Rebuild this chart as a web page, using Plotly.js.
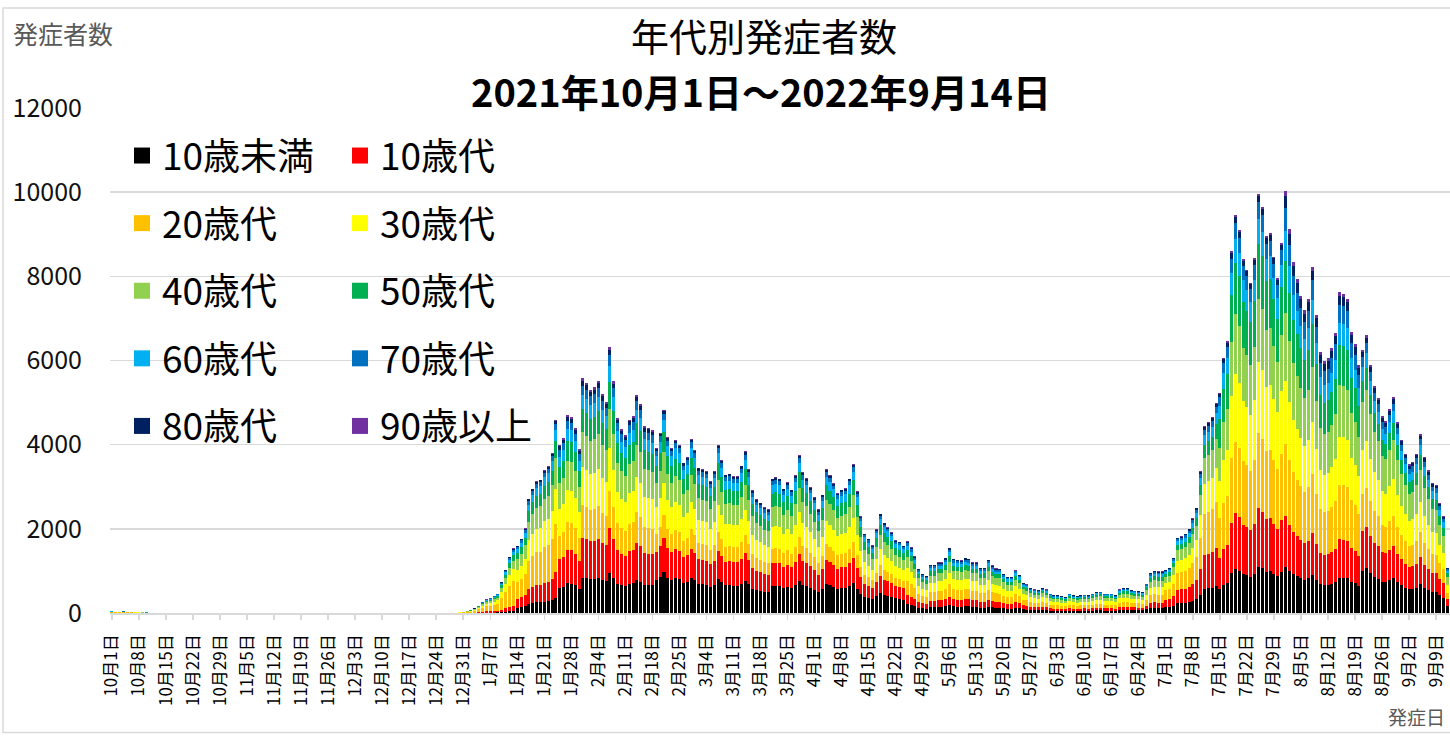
<!DOCTYPE html>
<html>
<head>
<meta charset="utf-8">
<script src="https://cdn.plot.ly/plotly-3.0.1.min.js"></script>
<style>html,body{margin:0;padding:0;background:#fff;}#chart{width:1450px;height:736px;}</style>
</head>
<body>
<div id="chart"></div>
<script>
// ---- series names & colours ----
const seriesNames = ['10歳未満','10歳代','20歳代','30歳代','40歳代','50歳代','60歳代','70歳代','80歳代','90歳以上'];
const seriesColors = ['#000000','#FF0000','#FFC000','#FFFF00','#92D050','#00B050','#00B0F0','#0070C0','#002060','#7030A0'];

// ---- x tick labels (every 7 days) ----
const tickLabels = ['10月1日','10月8日','10月15日','10月22日','10月29日','11月5日','11月12日','11月19日','11月26日','12月3日','12月10日','12月17日','12月24日','12月31日','1月7日','1月14日','1月21日','1月28日','2月4日','2月11日','2月18日','2月25日','3月4日','3月11日','3月18日','3月25日','4月1日','4月8日','4月15日','4月22日','4月29日','5月6日','5月13日','5月20日','5月27日','6月3日','6月10日','6月17日','6月24日','7月1日','7月8日','7月15日','7月22日','7月29日','8月5日','8月12日','8月19日','8月26日','9月2日','9月9日'];

// ---- daily values, 2021-10-01 .. 2022-09-14 ----
const age0 = [
5,4,4,4,4,3,3,3,2,2,
1,1,1,1,1,1,1,0,1,0,
0,0,1,0,0,0,0,0,1,0,
0,0,0,0,0,1,0,0,0,0,
0,0,0,0,0,0,0,0,0,0,
0,0,0,0,0,0,0,0,0,0,
0,0,0,0,0,0,0,0,0,0,
0,0,0,0,0,0,0,0,0,0,
0,0,0,0,0,0,1,0,0,1,
1,
1,2,2,3,5,8,10,11,12,14,22,31,40,46,
127,141,161,217,236,250,254,272,279,304,367,
599,624,707,699,660,582,837,822,797,803,830,779,755,948,825,698,656,636,689,704,780,746,668,660,654,
784,856,966,836,784,824,800,714,742,828,
774,690,682,674,626,674,800,728,658,662,
650,650,700,768,682,582,540,524,502,492,
638,646,638,590,622,586,654,752,668,642,
598,550,492,562,682,654,618,570,586,594,
638,708,578,460,378,352,322,398,472,428,
408,384,346,338,318,
205,188,162,126,112,
107,137,137,145,145,157,186,155,152,150,
157,155,145,145,128,130,152,136,127,126,
112,103,103,122,109,86,82,72,67,65,
72,67,55,50,50,48,46,55,50,48,
50,52,50,55,60,61,55,55,55,50,
67,71,71,65,64,62,60,84,114,120,
119,119,
133,139,170,233,237,244,260,293,325,438,577,589,606,649,
575,667,710,945,1041,1001,925,898,864,927,1096,1060,985,993,932,875,968,
1103,1003,919,872,829,792,822,905,780,682,658,666,693,732,838,835,822,736,703,649,
1002,1058,944,862,818,747,730,776,821,726,659,606,565,574,606,682,594,542,494,488,419,368,171,112,56
];
const age10 = [
6,5,5,6,4,4,4,3,3,2,
2,2,1,1,1,1,1,1,0,1,
1,0,0,1,0,0,0,0,0,0,
0,0,0,0,0,0,0,0,0,0,
0,0,0,0,0,0,0,0,0,0,
0,0,0,0,0,0,0,0,0,0,
0,0,0,0,0,0,0,0,0,0,
0,0,0,0,0,0,0,0,0,0,
0,0,0,0,0,0,0,1,1,1,
2,
3,4,6,9,14,21,26,28,32,36,59,82,106,123,
207,229,261,352,384,407,412,442,454,494,597,
678,707,801,792,748,660,949,932,903,910,940,882,855,1074,935,791,743,721,780,797,884,845,757,748,741,
666,728,821,711,666,700,680,607,631,704,
658,587,580,573,532,573,680,619,559,563,
553,553,595,653,580,495,459,445,427,418,
542,549,542,502,529,498,556,639,568,546,
508,468,418,478,580,556,525,485,498,505,
542,602,491,391,321,299,274,338,401,364,
347,326,294,287,270,
222,204,176,137,121,
116,148,148,157,157,170,202,168,165,163,
170,168,157,157,139,140,165,147,138,137,
121,112,112,133,118,94,88,78,73,70,
78,73,60,55,55,52,49,60,55,52,
55,56,55,60,65,66,60,60,60,55,
73,77,77,70,69,68,65,91,124,130,
129,129,
184,193,236,322,328,338,360,405,450,607,799,815,839,898,
732,848,903,1203,1324,1274,1177,1142,1099,1180,1394,1350,1253,1264,1186,1113,1232,
1204,1094,1002,952,905,864,896,988,851,744,718,726,756,798,914,911,896,803,767,708,
939,992,885,809,767,701,684,728,770,681,618,569,530,539,569,639,557,509,464,458,393,345,161,105,53
];
const age20 = [
8,8,7,8,7,6,5,5,4,3,
3,2,2,2,2,1,1,1,1,1,
1,1,0,1,1,1,0,1,0,1,
1,0,1,0,0,0,0,0,0,0,
0,0,0,1,0,0,0,0,1,0,
0,0,0,0,0,0,0,0,0,0,
0,0,0,0,0,0,0,0,0,0,
0,0,0,0,0,0,0,0,0,0,
1,1,0,1,1,1,2,2,3,4,
7,
13,19,27,42,68,99,122,133,152,171,281,391,505,585,
398,440,503,678,738,783,793,850,873,950,1148,
559,582,659,652,616,543,781,767,743,749,774,727,704,885,770,651,612,594,643,657,728,696,623,616,610,
431,471,531,460,431,453,440,393,408,455,
426,380,375,371,344,371,440,400,362,364,
358,358,385,422,375,320,297,288,276,271,
351,355,351,325,342,322,360,414,367,353,
329,303,271,309,375,360,340,314,322,327,
351,389,318,253,208,194,177,219,260,235,
224,211,190,186,175,
325,298,257,200,177,
169,217,217,230,230,249,295,245,241,238,
249,245,230,230,203,205,241,215,201,200,
177,163,163,194,173,137,129,114,106,103,
114,106,87,80,80,76,72,87,80,76,
80,82,80,87,95,97,87,87,87,80,
106,112,112,103,101,99,95,133,181,190,
188,188,
224,235,288,394,400,414,440,495,550,741,977,997,1025,1098,
941,1091,1161,1546,1703,1638,1514,1469,1413,1517,1793,1735,1611,1625,1525,1431,1584,
1705,1550,1420,1348,1282,1224,1270,1399,1205,1054,1017,1029,1071,1131,1295,1290,1270,1137,1086,1003,
876,925,826,755,715,654,638,679,718,636,577,531,494,503,531,596,519,475,433,427,367,322,150,98,49
];
const age30 = [
6,6,5,6,5,5,4,4,3,2,
2,2,2,1,1,1,1,1,1,1,
1,1,1,0,0,1,1,0,1,0,
0,0,0,0,0,0,0,0,0,0,
0,0,0,0,0,0,0,0,0,0,
0,0,0,0,0,0,0,0,0,0,
0,0,0,0,0,0,0,0,0,0,
0,0,0,0,0,0,0,0,0,0,
0,0,0,0,1,1,1,1,2,2,
4,
7,10,13,21,34,49,61,67,76,86,141,196,253,293,
286,317,362,488,531,563,571,612,628,684,826,
638,666,754,746,704,621,893,877,850,856,885,830,805,1011,880,744,699,678,734,750,832,795,712,704,698,
627,685,773,669,627,659,640,571,594,662,
619,552,546,539,501,539,640,582,526,530,
520,520,560,614,546,466,432,419,402,394,
510,517,510,472,498,469,523,602,534,514,
478,440,394,450,546,523,494,456,469,475,
510,566,462,368,302,282,258,318,378,342,
326,307,277,270,254,
308,283,243,189,167,
160,205,205,218,218,236,279,232,229,225,
236,232,218,218,193,194,229,203,191,189,
167,155,155,184,164,130,122,108,101,97,
108,101,83,76,76,72,68,83,76,72,
76,77,76,83,90,92,83,83,83,76,
101,106,106,97,95,94,90,126,171,180,
178,178,
163,171,210,286,291,301,320,360,400,539,710,725,746,798,
889,1030,1097,1460,1608,1547,1430,1387,1335,1433,1693,1639,1522,1535,1440,1352,1496,
1505,1368,1253,1190,1131,1080,1121,1235,1064,930,897,908,945,998,1143,1139,1121,1004,959,885,
1064,1124,1003,916,869,794,775,825,872,772,700,644,600,610,644,724,631,576,525,519,445,391,182,119,60
];
const age40 = [
6,5,5,5,4,4,4,3,3,2,
2,1,1,1,1,1,1,1,1,1,
1,0,1,1,0,0,0,0,0,0,
0,0,0,1,0,0,0,0,0,0,
0,0,0,0,0,0,0,0,0,0,
0,0,0,0,0,0,0,0,0,0,
0,0,0,0,0,0,0,0,0,0,
0,0,0,0,0,0,0,0,0,0,
0,0,0,0,0,1,1,1,1,2,
3,
5,7,9,14,23,34,42,46,52,59,96,134,173,200,
254,282,322,434,472,501,507,544,558,608,734,
605,618,700,705,652,590,830,815,790,810,822,785,748,940,832,690,662,630,695,698,772,752,660,668,648,
588,642,725,627,588,618,600,536,557,621,
581,518,512,506,470,506,600,546,494,497,
488,488,525,576,512,437,405,393,377,369,
479,485,479,443,467,440,491,564,501,482,
449,413,369,422,512,491,464,428,440,446,
479,531,434,345,284,264,242,299,354,321,
306,288,260,254,239,
274,251,216,168,149,
142,182,182,194,194,210,248,206,203,200,
210,206,194,194,171,173,203,181,170,168,
149,138,138,163,146,115,109,96,90,86,
96,90,74,67,67,64,61,74,67,64,
67,69,67,74,80,82,74,74,74,67,
90,94,94,86,85,83,80,112,152,160,
158,158,
143,150,183,251,255,263,280,315,350,472,622,634,652,699,
785,909,968,1289,1419,1365,1262,1224,1178,1265,1494,1446,1343,1355,1271,1193,1320,
1605,1459,1336,1269,1206,1152,1195,1317,1134,992,957,968,1008,1064,1219,1214,1195,1070,1022,944,
1127,1190,1062,970,920,841,821,873,923,817,742,682,635,646,682,767,668,610,556,549,472,414,193,126,63
];
const age50 = [
4,4,3,4,3,3,3,2,2,2,
1,1,1,1,1,1,0,1,0,0,
0,1,0,1,0,1,0,1,0,1,
1,1,0,0,1,0,0,0,0,1,
1,0,1,0,0,1,0,1,0,0,
0,1,0,1,0,0,1,0,1,0,
1,0,0,1,0,1,0,0,1,0,
0,1,0,0,1,0,1,1,0,1,
0,1,1,0,0,0,0,0,1,1,
1,
3,4,5,8,13,20,25,29,33,35,57,80,104,120,
143,158,181,244,266,282,285,306,314,342,413,
399,416,471,466,440,388,558,548,531,535,553,519,503,632,550,465,437,424,459,469,520,497,445,440,436,
392,428,483,418,392,412,400,357,371,414,
387,345,341,337,313,337,400,364,329,331,
325,325,350,384,341,291,270,262,251,246,
319,323,319,295,311,293,327,376,334,321,
299,275,246,281,341,327,309,285,293,297,
319,354,289,230,189,176,161,199,236,214,
204,192,173,169,159,
154,141,122,95,84,
80,103,103,109,109,118,140,116,114,113,
118,116,109,109,96,97,114,102,95,95,
84,77,77,92,82,65,61,54,50,49,
54,50,41,38,38,36,34,41,38,36,
38,39,38,41,45,46,41,41,41,38,
50,53,53,49,48,47,45,63,86,90,
89,89,
71,75,92,125,127,132,140,158,175,236,311,317,326,349,
680,788,839,1117,1230,1183,1093,1061,1021,1096,1295,1253,1164,1174,1101,1034,1144,
1254,1140,1044,991,943,900,934,1029,886,775,748,756,788,831,953,949,934,836,799,738,
501,529,472,431,409,374,365,388,410,363,330,303,282,287,303,341,297,271,247,244,210,184,86,56,28
];
const age60 = [
2,2,2,2,2,2,1,1,1,1,
1,1,1,1,0,0,1,0,1,0,
0,0,0,0,1,0,1,0,1,0,
0,0,1,0,0,1,1,1,0,0,
0,0,0,0,0,0,0,0,0,0,
0,0,0,0,0,0,0,0,0,0,
0,0,0,0,0,0,0,0,0,0,
0,0,0,0,0,0,0,0,0,0,
0,0,0,0,0,0,0,0,0,0,
1,
2,3,4,7,11,16,19,21,24,27,44,62,80,92,
95,106,121,163,177,188,190,204,209,228,275,
239,250,283,280,264,233,335,329,319,321,332,311,302,379,330,279,262,254,275,281,312,298,267,264,262,
235,257,290,251,235,247,240,214,223,248,
232,207,205,202,188,202,240,218,197,199,
195,195,210,230,205,175,162,157,151,148,
191,194,191,177,187,176,196,226,200,193,
179,165,148,169,205,196,185,171,176,178,
191,212,173,138,113,106,97,119,142,128,
122,115,104,101,95,
103,94,81,63,56,
53,68,68,73,73,79,93,77,76,75,
79,77,73,73,64,65,76,68,64,63,
56,52,52,61,55,43,41,36,34,32,
36,34,28,25,25,24,23,28,25,24,
25,26,25,28,30,31,28,28,28,25,
34,35,35,32,32,31,30,42,57,60,
59,59,
51,54,66,90,91,94,100,113,125,169,222,227,233,250,
314,364,387,515,568,546,505,490,471,506,598,578,537,542,508,477,528,
702,638,585,555,528,504,523,576,496,434,419,424,441,466,533,531,523,468,447,413,
344,364,325,296,281,257,251,267,282,250,227,208,194,197,208,234,204,186,170,168,144,127,59,39,19
];
const age70 = [
1,1,1,1,1,1,1,1,0,0,
0,0,0,0,0,0,0,0,0,0,
0,0,0,0,0,0,0,0,0,0,
0,0,0,0,0,0,0,0,0,0,
0,0,0,0,0,0,0,0,0,0,
0,0,0,0,0,0,0,0,0,0,
0,0,0,0,0,0,0,0,0,0,
0,0,0,0,0,0,0,0,0,0,
0,0,0,0,0,0,0,0,0,0,
1,
1,1,2,3,5,7,9,10,12,13,21,30,38,44,
48,53,60,81,89,94,95,102,105,114,138,
160,166,188,186,176,155,223,219,212,214,221,208,201,253,220,186,175,170,184,188,208,199,178,176,174,
118,128,145,125,118,124,120,107,111,124,
116,104,102,101,94,101,120,109,99,99,
98,98,105,115,102,87,81,79,75,74,
96,97,96,89,93,88,98,113,100,96,
90,83,74,84,102,98,93,86,88,89,
96,106,87,69,57,53,48,60,71,64,
61,58,52,51,48,
68,63,54,42,37,
36,46,46,48,48,52,62,52,51,50,
52,52,48,48,43,43,51,45,42,42,
37,34,34,41,36,29,27,24,22,22,
24,22,18,17,17,16,15,18,17,16,
17,17,17,18,20,20,18,18,18,17,
22,24,24,22,21,21,20,28,38,40,
40,40,
31,32,39,54,55,56,60,68,75,101,133,136,140,150,
209,242,258,344,378,364,336,326,314,337,398,386,358,361,339,318,352,
552,502,459,436,415,396,411,453,390,341,329,333,347,366,419,417,411,368,351,325,
219,231,207,189,179,163,160,170,180,159,144,133,124,126,133,149,130,119,108,107,92,81,37,25,12
];
const age80 = [
0,0,0,0,0,0,0,1,0,0,
0,0,0,0,0,0,0,0,0,0,
0,0,0,0,0,0,0,0,0,0,
0,0,0,0,0,0,0,0,0,0,
0,0,0,0,0,0,0,0,0,0,
0,0,0,0,0,0,0,0,0,0,
0,0,0,0,0,0,0,0,0,0,
0,0,0,0,0,0,0,0,0,0,
0,0,0,0,0,0,0,0,0,0,
0,
0,1,1,2,3,4,5,5,6,7,11,15,20,23,
24,26,30,41,44,47,48,51,52,57,69,
80,83,94,93,88,78,112,110,106,107,111,104,101,126,110,93,87,85,92,94,104,99,89,88,87,
59,64,72,63,59,62,60,54,56,62,
58,52,51,51,47,51,60,55,49,50,
49,49,53,58,51,44,41,39,38,37,
48,48,48,44,47,44,49,56,50,48,
45,41,37,42,51,49,46,43,44,45,
48,53,43,35,28,26,24,30,35,32,
31,29,26,25,24,
34,31,27,21,19,
18,23,23,24,24,26,31,26,25,25,
26,26,24,24,21,22,25,23,21,21,
19,17,17,20,18,14,14,12,11,11,
12,11,9,8,8,8,8,9,8,8,
8,9,8,9,10,10,9,9,9,8,
11,12,12,11,11,10,10,14,19,20,
20,20,
15,16,20,27,27,28,30,34,38,51,67,68,70,75,
78,91,97,129,142,137,126,122,118,126,149,145,134,135,127,119,132,
281,255,234,222,211,202,209,230,199,174,167,169,176,186,213,213,209,187,179,165,
125,132,118,108,102,93,91,97,103,91,82,76,71,72,76,85,74,68,62,61,52,46,21,14,7
];
const age90 = [
0,0,0,0,0,0,0,0,0,0,
0,0,0,0,0,0,0,0,0,0,
0,0,0,0,0,0,0,0,0,0,
0,0,0,0,0,0,0,0,0,0,
0,0,0,0,0,0,0,0,0,0,
0,0,0,0,0,0,0,0,0,0,
0,0,0,0,0,0,0,0,0,0,
0,0,0,0,0,0,0,0,0,0,
0,0,0,0,0,0,0,0,0,0,
0,
0,0,0,1,1,1,2,2,2,2,4,5,7,8,
8,9,10,14,15,16,16,17,17,19,23,
40,42,47,47,44,39,56,55,53,54,55,52,50,63,55,47,44,42,46,47,52,50,45,44,44,
20,21,24,21,20,21,20,18,19,21,
19,17,17,17,16,17,20,18,16,17,
16,16,18,19,17,15,14,13,13,12,
16,16,16,15,16,15,16,19,17,16,
15,14,12,14,17,16,15,14,15,15,
16,18,14,12,9,9,8,10,12,11,
10,10,9,8,8,
17,16,14,11,9,
9,11,11,12,12,13,16,13,13,13,
13,13,12,12,11,11,13,11,11,11,
9,9,9,10,9,7,7,6,6,5,
6,6,5,4,4,4,4,5,4,4,
4,4,4,5,5,5,5,5,5,4,
6,6,6,5,5,5,5,7,10,10,
10,10,
5,5,7,9,9,9,10,11,13,17,22,23,23,25,
26,30,32,43,47,46,42,41,39,42,50,48,45,45,42,40,44,
120,109,100,95,90,86,90,99,85,74,72,73,76,80,91,91,90,80,77,71,
63,66,59,54,51,47,46,49,51,45,41,38,35,36,38,43,37,34,31,31,26,23,11,7,4
];

const seriesValues = [age0, age10, age20, age30, age40, age50, age60, age70, age80, age90];

// ---- daily categories ----
const NDAYS = 349;
const categories = [];
for (let i = 0; i < NDAYS; i++) {
  const d = new Date(2021, 9, 1 + i);
  categories.push((d.getMonth() + 1) + '月' + d.getDate() + '日');
}

const FONT = '"Noto Sans CJK JP", "Noto Sans", sans-serif';

const traces = [];
seriesNames.forEach((name, k) => {
  traces.push({
    type: 'bar', x: categories, y: seriesValues[k], name: name,
    marker: {color: seriesColors[k], line: {width: 0}},
    showlegend: false, hoverinfo: 'x+y+name'
  });
});
// legend entries (two columns)
seriesNames.forEach((name, k) => {
  traces.push({
    type: 'scatter', mode: 'markers', x: [null], y: [null], name: name,
    marker: {symbol: 'square', size: 22, color: seriesColors[k]},
    legend: (k % 2 === 0) ? 'legend' : 'legend2',
    legendgroup: 'g' + k, showlegend: true, hoverinfo: 'skip'
  });
});

const L = 110, T = 108, PW = 1340, PH = 505.5;
const px = v => (v - L) / PW;
const py = v => (T + PH - v) / PH;

const legendCommon = {
  orientation: 'v', traceorder: 'grouped', tracegroupgap: 16.5,
  font: {family: FONT, size: 37, color: '#000'},
  bgcolor: 'rgba(0,0,0,0)', borderwidth: 0,
  xanchor: 'left', yanchor: 'top', itemwidth: 30
};

const layout = {
  width: 1450, height: 736,
  paper_bgcolor: '#fff', plot_bgcolor: '#fff',
  margin: {l: L, r: 0, t: T, b: 736 - T - PH, pad: 0},
  font: {family: FONT, color: '#000'},
  barmode: 'stack', bargap: 0.22,
  title: {
    text: '年代別発症者数',
    font: {family: FONT, size: 38, color: '#000'},
    x: 764 / 1450, xref: 'container', xanchor: 'center',
    y: 1 - 38 / 736, yref: 'container', yanchor: 'middle'
  },
  xaxis: {
    type: 'category', range: [-0.5, 346.6], autorange: false,
    tickmode: 'array', tickvals: tickLabels, ticktext: tickLabels,
    tickangle: -90, tickfont: {family: FONT, size: 17, color: '#000'},
    ticks: 'outside', ticklen: 5, tickwidth: 1.5, tickcolor: '#d9d9d9',
    ticklabelstandoff: 8,
    showline: true, linecolor: '#d9d9d9', linewidth: 1.5,
    showgrid: false, zeroline: false, fixedrange: true
  },
  yaxis: {
    range: [0, 12000], autorange: false, tickmode: 'linear', tick0: 0, dtick: 2000,
    tickformat: 'd',
    tickfont: {family: FONT, size: 25, color: '#111'},
    showgrid: true, gridcolor: '#d9d9d9', gridwidth: 1.5,
    zeroline: false, showline: false, ticks: '', ticklabelstandoff: 27,
    fixedrange: true
  },
  legend: Object.assign({}, legendCommon, {x: px(122), y: py(125)}),
  legend2: Object.assign({}, legendCommon, {x: px(340), y: py(125)}),
  annotations: [
    {text: '<b>2021年10月1日～2022年9月14日</b>', xref: 'paper', yref: 'paper', x: px(761), y: py(90),
     xanchor: 'center', yanchor: 'middle', showarrow: false,
     font: {family: FONT, size: 38, color: '#000'}},
    {text: '発症者数', xref: 'paper', yref: 'paper', x: px(63), y: py(33),
     xanchor: 'center', yanchor: 'middle', showarrow: false,
     font: {family: FONT, size: 25, color: '#595959'}},
    {text: '発症日', xref: 'paper', yref: 'paper', x: px(1416), y: py(717),
     xanchor: 'center', yanchor: 'middle', showarrow: false,
     font: {family: FONT, size: 19, color: '#595959'}}
  ],
  shapes: [
    {type: 'rect', xref: 'paper', yref: 'paper', x0: px(3), x1: px(1470), y0: py(733), y1: py(8),
     line: {color: '#d9d9d9', width: 1.5}, fillcolor: 'rgba(0,0,0,0)', layer: 'below'}
  ]
};

Plotly.newPlot('chart', traces, layout, {displayModeBar: false, staticPlot: true}).then(() => {
  const bad = seriesValues.map((s, k) => seriesNames[k] + ':' + s.length).filter((t, k) => seriesValues[k].length !== NDAYS);
  if (bad.length) throw new Error('length mismatch ' + bad.join(','));
});
</script>
</body>
</html>
